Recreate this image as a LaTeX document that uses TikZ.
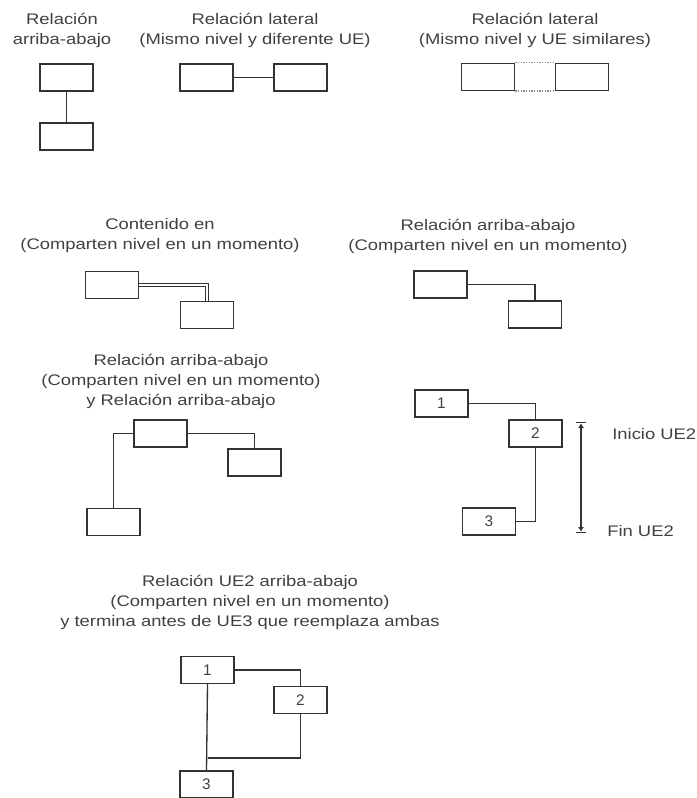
\documentclass[tikz,border=0pt]{standalone}
\usepackage{fontspec}
\setmainfont{Liberation Sans}
\usetikzlibrary{arrows.meta}

\begin{document}
\begin{tikzpicture}[x=0.75pt, y=-0.75pt, >={Latex[length=3.5pt,width=4.5pt]},
    ue/.style={draw=black!80, line width=1pt, minimum width=39.75pt, minimum height=20.25pt,
      inner sep=0pt, font=\fontsize{11.5}{15}\selectfont, text=black!75},
    lbl/.style={align=center, xscale=1.2, font=\fontsize{11.5}{15}\selectfont, text=black!75},
    rel/.style={draw=black!80, line width=1pt}]
  \useasboundingbox (0,0) rectangle (696,798);
  % Relacion arriba-abajo
  \node[lbl] (t1) at (62,30) {Relación\\arriba-abajo};
  \node[ue] (a1) at (66.5,77.5) {};
  \node[ue] (a2) at (66.5,136.5) {};
  \draw[rel] (a1.south) -- (a2.north);
  % Relacion lateral, diferente UE
  \node[lbl] (t2) at (255,30) {Relación lateral\\(Mismo nivel y diferente UE)};
  \node[ue] (b1) at (206.5,77.5) {};
  \node[ue] (b2) at (300.5,77.5) {};
  \draw[rel] (b1.east) -- (b2.west);
  % Relacion lateral, UE similares
  \node[lbl] (t3) at (535,30) {Relación lateral\\(Mismo nivel y UE similares)};
  \node[ue] (c1) at (488,77) {};
  \node[ue] (c2) at (582,77) {};
  \draw[black!45, densely dotted, line width=1pt] (c1.north east) -- (c2.north west);
  \draw[black!45, densely dotted, line width=1pt] (c1.south east) -- (c2.south west);
  % Contenido en
  \node[lbl] (t4) at (160,236) {Contenido en\\(Comparten nivel en un momento)};
  \node[ue] (d1) at (112,285) {};
  \node[ue] (d2) at (207,315) {};
  \draw[black!80, line width=0.7pt, double, double distance=1.5pt] (d1.east) -| (d2.north);
  % Relacion arriba-abajo en un momento
  \node[lbl] (t5) at (488,236) {Relación arriba-abajo\\(Comparten nivel en un momento)};
  \node[ue] (e1) at (440.5,284.5) {};
  \node[ue] (e2) at (535,314.5) {};
  \draw[rel] (e1.east) -| (e2.north);
  % Dos relaciones arriba-abajo
  \node[lbl] (t6) at (181,381) {Relación arriba-abajo\\(Comparten nivel en un momento)\\y Relación arriba-abajo};
  \node[ue] (f1) at (160.5,433.5) {};
  \node[ue] (f2) at (254.5,462.5) {};
  \node[ue] (f3) at (113.5,522) {};
  \draw[rel] (f1.east) -| (f2.north);
  \draw[rel] (f1.west) -| (f3.north);
  % Inicio y fin de UE2
  \node[ue] (g1) at (441.5,403.5) {1};
  \node[ue] (g2) at (535.5,433.5) {2};
  \node[ue] (g3) at (489,521.5) {3};
  \draw[rel] (g1.east) -| (g2.north);
  \draw[rel] (g2.south) |- (g3.east);
  \coordinate (ms) at (581,422);
  \coordinate (me) at (581,533);
  \draw[rel, |<->|] (ms) -- (me);
  \node[lbl, anchor=west, inner sep=0pt] (ini) at (612,434) {Inicio UE2};
  \node[lbl, anchor=west, inner sep=0pt] (fin) at (607,531) {Fin UE2};
  % UE3 reemplaza ambas
  \node[lbl] (t8) at (250,602) {Relación UE2 arriba-abajo\\(Comparten nivel en un momento)\\y termina antes de UE3 que reemplaza ambas};
  \node[ue] (h1) at (207.5,670) {1};
  \node[ue] (h2) at (300.5,700) {2};
  \node[ue] (h3) at (206.5,784.5) {3};
  \coordinate (hj) at (207.5,758);
  \draw[rel] (h1.east) -| (h2.north);
  \draw[rel] (h1.south) -- (h3.north);
  \draw[rel] (h2.south) |- (hj);
\end{tikzpicture}
\end{document}
